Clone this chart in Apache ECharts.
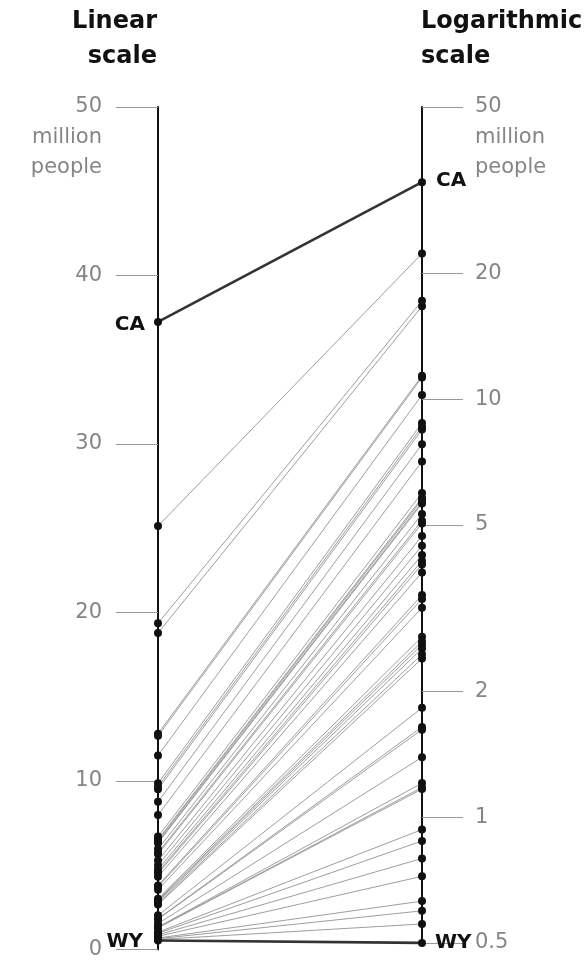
<!DOCTYPE html>
<html><head><meta charset="utf-8">
<script src="https://cdn.jsdelivr.net/npm/echarts@6/dist/echarts.min.js"></script>
<style>html,body{margin:0;padding:0;background:#fff}#c{width:584px;height:960px}</style>
</head><body><div id="c"></div>
<script>
// US state populations, 2010 census (millions)
const states = ['AL','AK','AZ','AR','CA','CO','CT','DE','FL','GA','HI','ID','IL','IN','IA','KS','KY','LA','ME','MD',
  'MA','MI','MN','MS','MO','MT','NE','NV','NH','NJ','NM','NY','NC','ND','OH','OK','OR','PA','RI','SC',
  'SD','TN','TX','UT','VT','VA','WA','WV','WI','WY'];
const population = [4.780,0.710,6.392,2.916,37.254,5.029,3.574,0.898,18.801,9.688,1.360,1.568,12.831,6.484,3.046,2.853,4.339,4.533,1.328,5.774,
  6.548,9.884,5.304,2.967,5.989,0.989,1.826,2.701,1.316,8.792,2.059,19.378,9.535,0.673,11.537,3.751,3.831,12.702,1.053,4.625,
  0.814,6.346,25.146,2.764,0.626,8.001,6.725,1.853,5.687,0.564];
const linearTicks = [0, 10, 20, 30, 40, 50];
const logTicks = [0.5, 1, 2, 5, 10, 20, 50];
const linearRange = [0, 50];
const logTickRange = [0.5, 50];
// range of the log axis the data points were plotted on in the original
const logDataRange = [0.5424, 56.36];
const highlighted = ['CA', 'WY'];

const FONT = 'DejaVu Sans';
const GRAY = '#858585';
const isKey = s => highlighted.indexOf(s) >= 0;

const order = states.map((s, i) => i).sort((a, b) => (isKey(states[a]) ? 1 : 0) - (isKey(states[b]) ? 1 : 0));
const lineData = order.map(i => ({
  name: states[i],
  value: [population[i], population[i]],
  lineStyle: isKey(states[i]) ? { color: '#333', width: 2.6, opacity: 1 } : { color: '#939393', width: 0.9, opacity: 1 }
}));

const labelOpts = {
  left: { CA: { position: 'left', distance: 9, offset: [0, 3] }, WY: { position: 'left', distance: 11, offset: [0, 1] } },
  right: { CA: { position: 'right', distance: 10, offset: [0, -1] }, WY: { position: 'right', distance: 9, offset: [0, 0] } }
};
function dots(side) {
  return states.map((s, i) => ({
    name: s,
    value: [0, population[i]],
    label: isKey(s) ? Object.assign({ show: true, formatter: s, color: '#111', fontFamily: FONT, fontWeight: 'bold', fontSize: 20 }, labelOpts[side][s]) : { show: false }
  }));
}

const hiddenX = idx => ({ gridIndex: idx, type: 'value', min: -1, max: 1, show: false });
const axisLine = { show: true, onZero: false, lineStyle: { color: '#111', width: 2 } };
const tickLabel = { color: GRAY, fontFamily: FONT, fontSize: 21 };
const hiddenParallel = {
  name: '',
  axisLine: { show: false, lineStyle: { color: 'rgba(0,0,0,0)' } },
  axisTick: { show: false, length: 0, lineStyle: { color: 'rgba(0,0,0,0)' } },
  axisLabel: { show: false, color: 'rgba(0,0,0,0)', formatter: () => '' },
  splitLine: { show: false },
  nameTextStyle: { fontSize: 1, color: 'rgba(0,0,0,0)' }
};

const chart = echarts.init(document.getElementById('c'));
chart.setOption({
  animation: false,
  backgroundColor: '#fff',
  parallel: { left: 158, right: 162, top: 107, bottom: 10, layout: 'horizontal', parallelAxisDefault: hiddenParallel },
  parallelAxis: [
    Object.assign({ dim: 0, type: 'value', min: linearRange[0], max: linearRange[1] }, hiddenParallel),
    Object.assign({ dim: 1, type: 'log', min: logDataRange[0], max: logDataRange[1] }, hiddenParallel)
  ],
  grid: [
    { left: 158, width: 10, top: 107, bottom: 10 },
    { left: 412, width: 10, top: 107, bottom: 17 },
    { left: 148, width: 20, top: 107, bottom: 10 },
    { left: 412, width: 20, top: 107, bottom: 10 }
  ],
  xAxis: [hiddenX(0), hiddenX(1), hiddenX(2), hiddenX(3)],
  yAxis: [
    { gridIndex: 0, type: 'value', min: linearRange[0], max: linearRange[1], interval: 10, position: 'left',
      axisLine: axisLine, splitLine: { show: false },
      axisTick: { show: true, length: 42, lineStyle: { color: '#9a9a9a', width: 1 }, customValues: linearTicks },
      axisLabel: Object.assign({ margin: 56, customValues: linearTicks }, tickLabel) },
    { gridIndex: 1, type: 'log', min: logTickRange[0], max: logTickRange[1], position: 'right',
      axisLine: axisLine, splitLine: { show: false }, minorTick: { show: false },
      axisTick: { show: true, length: 41, lineStyle: { color: '#9a9a9a', width: 1 }, customValues: logTicks },
      axisLabel: Object.assign({ margin: 53, customValues: logTicks, formatter: v => String(v) }, tickLabel) },
    { gridIndex: 2, type: 'value', min: linearRange[0], max: linearRange[1], show: false,
      axisLabel: { show: false }, axisTick: { show: false }, axisLine: { show: false }, splitLine: { show: false } },
    { gridIndex: 3, type: 'log', min: logDataRange[0], max: logDataRange[1], show: false,
      axisLabel: { show: false }, axisTick: { show: false }, axisLine: { show: false }, splitLine: { show: false } }
  ],
  graphic: [
    { type: 'text', x: 157, y: 22, style: { text: 'Linear', fontFamily: FONT, fontWeight: 'bold', fontSize: 24, fill: '#111', align: 'right', verticalAlign: 'middle' } },
    { type: 'text', x: 157, y: 57, style: { text: 'scale', fontFamily: FONT, fontWeight: 'bold', fontSize: 24, fill: '#111', align: 'right', verticalAlign: 'middle' } },
    { type: 'text', x: 421, y: 22, style: { text: 'Logarithmic', fontFamily: FONT, fontWeight: 'bold', fontSize: 24, fill: '#111', align: 'left', verticalAlign: 'middle' } },
    { type: 'text', x: 421, y: 57, style: { text: 'scale', fontFamily: FONT, fontWeight: 'bold', fontSize: 24, fill: '#111', align: 'left', verticalAlign: 'middle' } },
    { type: 'text', x: 102, y: 138, style: { text: 'million', fontFamily: FONT, fontSize: 21, fill: GRAY, align: 'right', verticalAlign: 'middle' } },
    { type: 'text', x: 102, y: 168, style: { text: 'people', fontFamily: FONT, fontSize: 21, fill: GRAY, align: 'right', verticalAlign: 'middle' } },
    { type: 'text', x: 475, y: 138, style: { text: 'million', fontFamily: FONT, fontSize: 21, fill: GRAY, align: 'left', verticalAlign: 'middle' } },
    { type: 'text', x: 475, y: 168, style: { text: 'people', fontFamily: FONT, fontSize: 21, fill: GRAY, align: 'left', verticalAlign: 'middle' } }
  ],
  series: [
    { type: 'parallel', parallelIndex: 0, z: 2, silent: true, smooth: false, inactiveOpacity: 1, activeOpacity: 1, data: lineData },
    { type: 'scatter', xAxisIndex: 2, yAxisIndex: 2, z: 5, symbol: 'circle', symbolSize: 8, silent: true,
      itemStyle: { color: '#111', opacity: 1 }, data: dots('left') },
    { type: 'scatter', xAxisIndex: 3, yAxisIndex: 3, z: 5, symbol: 'circle', symbolSize: 8, silent: true,
      itemStyle: { color: '#111', opacity: 1 }, data: dots('right') }
  ]
});
</script></body></html>
